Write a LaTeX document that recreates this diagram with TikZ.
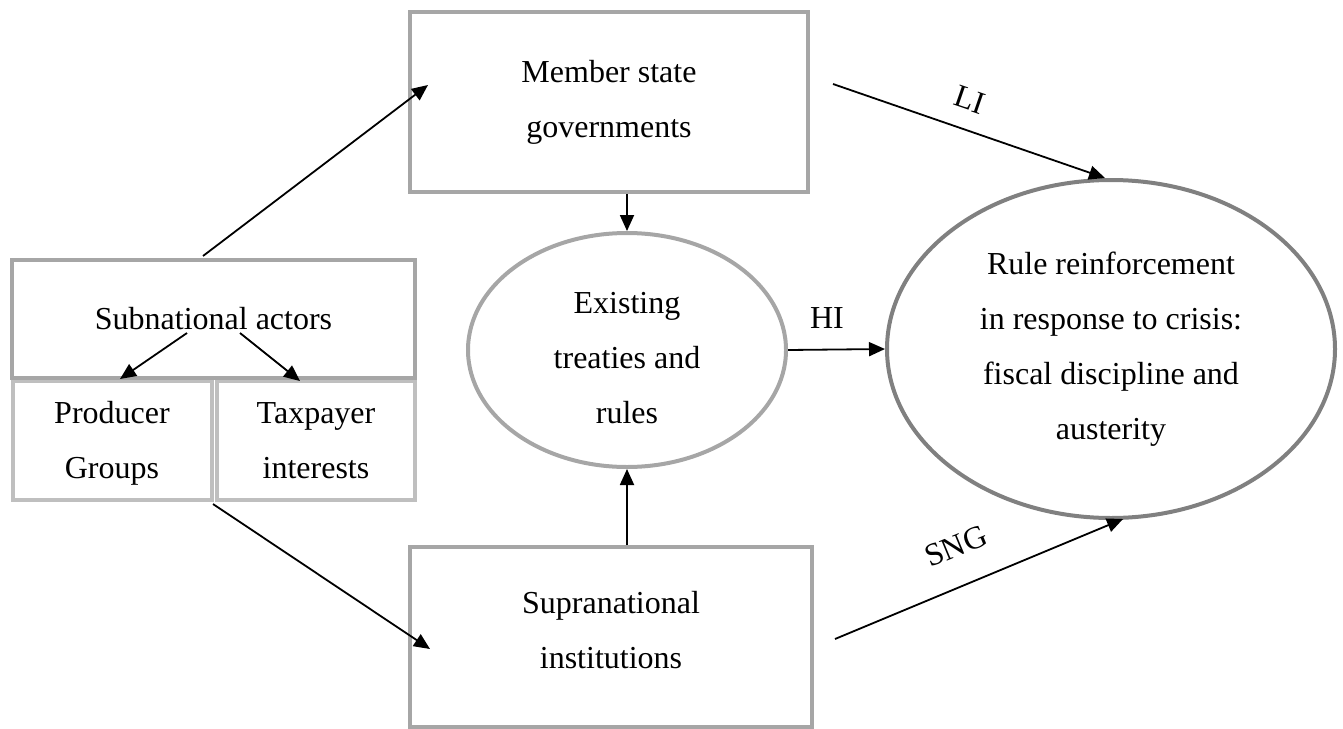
\documentclass[tikz,border=0pt]{standalone}
\usepackage{fontspec}
\setmainfont{Liberation Serif}
\usetikzlibrary{arrows.meta,shapes.geometric}
\definecolor{boxgray}{HTML}{A6A6A6}
\definecolor{lightgray}{HTML}{BFBFBF}
\definecolor{darkgray}{HTML}{808080}
\newcommand{\uph}[1]{\rule{0pt}{#1}}
\newcommand{\dnd}[1]{\rule[-#1]{0pt}{#1}}
\tikzset{
  txt/.style={font=\fontsize{16}{27.5}\selectfont, align=center},
  bigbox/.style={txt, draw=boxgray, line width=2pt, rectangle, inner sep=0pt},
  subbox/.style={txt, draw=lightgray, line width=2pt, rectangle, inner sep=0pt},
  oval/.style={txt, ellipse, line width=2pt, inner sep=0pt},
  conn/.style={line width=0.9pt, -{Triangle[length=8pt,width=7pt]}},
  lbl/.style={font=\fontsize{16}{19}\selectfont, inner sep=0pt}
}
\begin{document}
\begin{tikzpicture}[x=0.5pt,y=-0.5pt]
\useasboundingbox (0,0) rectangle (1343,728);
% subnational lower boxes first
\node[subbox, minimum width=99.5pt, minimum height=59.5pt] (prod) at (112,440.5) {\uph{14pt}Producer\\Groups\dnd{4pt}};
\node[subbox, minimum width=99pt, minimum height=59.5pt] (tax) at (316,440.5) {\uph{14pt}Taxpayer\\interests\dnd{4pt}};
\node[bigbox, minimum width=201.5pt, minimum height=59pt] (sub) at (213.5,319) {Subnational actors};
% main boxes
\node[bigbox, minimum width=199pt, minimum height=90pt] (member) at (609,102) {Member state\\governments};
\node[bigbox, minimum width=201pt, minimum height=90pt] (supra) at (611,637) {Supranational\\institutions\dnd{7pt}};
% ellipses
\node[oval, draw=boxgray, minimum width=159pt, minimum height=117pt] (exist) at (627,350) {\uph{19pt}Existing\\treaties and\\rules};
\node[oval, draw=darkgray, minimum width=224pt, minimum height=169pt] (rule) at (1111,349) {Rule reinforcement\\in response to crisis:\\fiscal discipline and\\austerity};
% coordinates for free ends
\coordinate (s1) at (203,256);
\coordinate (t1) at (428,85);
\coordinate (s2) at (213,504);
\coordinate (t2) at (430,649);
\coordinate (s3) at (187,333);
\coordinate (t3) at (120,379);
\coordinate (s4) at (240,333);
\coordinate (t4) at (300,381);
\coordinate (lis) at (833,84);
\coordinate (lit) at (1105,178);
\coordinate (sngs) at (835,639);
\coordinate (sngt) at (1123,519);
% connectors
\draw[conn] (s1) -- (t1);
\draw[conn] (s2) -- (t2);
\draw[conn] (s3) -- (t3);
\draw[conn] (s4) -- (t4);
\draw[conn] (exist.north |- member.south) -- (exist.north);
\draw[conn] (exist.south |- supra.north) -- (exist.south);
\draw[conn] (exist.east) -- (rule.west);
\draw[conn] (lis) -- (lit);
\draw[conn] (sngs) -- (sngt);
% labels
\node[lbl] (hi) at (827,318) {HI};
\node[lbl, rotate=-19] (li) at (970,100) {LI};
\node[lbl, rotate=22.6] (sng) at (956,546) {SNG};
\end{tikzpicture}
\end{document}
